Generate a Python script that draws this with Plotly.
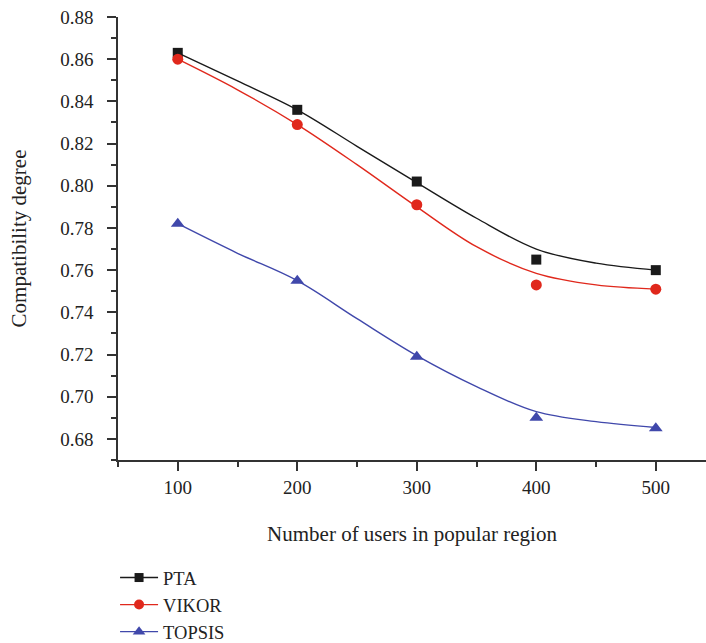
import plotly.graph_objects as go

# Measured points
users = [100, 200, 300, 400, 500]
pta = [0.863, 0.836, 0.802, 0.765, 0.760]
vikor = [0.860, 0.829, 0.791, 0.753, 0.751]
topsis = [0.782, 0.755, 0.719, 0.690, 0.685]

# Fitted curves
fit_x = [100, 150, 200, 250, 300, 350, 400, 450, 500]
pta_fit = [0.863, 0.8497, 0.836, 0.8187, 0.8015, 0.7846, 0.770, 0.7633, 0.760]
vikor_fit = [0.860, 0.8455, 0.829, 0.810, 0.790, 0.7711, 0.7585, 0.753, 0.751]
topsis_fit = [0.782, 0.768, 0.755, 0.737, 0.7195, 0.7048, 0.6929, 0.6882, 0.6854]

y_ticks = [0.68, 0.70, 0.72, 0.74, 0.76, 0.78, 0.80, 0.82, 0.84, 0.86, 0.88]

names = ["PTA", "VIKOR", "TOPSIS"]
colors = ["#1a1a1a", "#e0281c", "#4048ab"]
symbols = ["square", "circle", "triangle-up"]
msizes = [10, 11, 12]

FONT = "Liberation Serif"
TXT = "#222"

fig = go.Figure()
series = [(pta, pta_fit), (vikor, vikor_fit), (topsis, topsis_fit)]
for i, (pts, fit) in enumerate(series):
    fig.add_trace(go.Scatter(x=fit_x, y=fit, mode="lines",
                             line=dict(color=colors[i], width=1.4, shape="spline", smoothing=1.0),
                             showlegend=False, hoverinfo="skip"))
    fig.add_trace(go.Scatter(x=users, y=pts, mode="markers",
                             marker=dict(symbol=symbols[i], size=msizes[i], color=colors[i]),
                             showlegend=False))
for i in range(3):
    fig.add_trace(go.Scatter(x=[None], y=[None], mode="lines+markers", name=names[i],
                             line=dict(color=colors[i], width=1.4),
                             marker=dict(symbol=symbols[i], size=msizes[i] - 1, color=colors[i])))

fig.update_layout(
    width=706, height=643,
    margin=dict(l=118, r=0, t=17, b=183, autoexpand=False),
    plot_bgcolor="white", paper_bgcolor="white",
    font=dict(family=FONT, size=19, color=TXT),
    showlegend=True,
    legend=dict(x=-0.005, y=-0.2235, xanchor="left", yanchor="top", itemwidth=38,
                font=dict(size=18.5, family=FONT, color=TXT),
                tracegroupgap=0, bgcolor="rgba(0,0,0,0)"),
    xaxis=dict(range=[50, 542], tickvals=users, ticktext=[str(u) for u in users],
               showgrid=False, zeroline=False, showline=True, linecolor="#333", linewidth=1.5,
               ticks="outside", ticklen=9, tickwidth=1.5, tickcolor="#333",
               ticklabelstandoff=0, automargin=False,
               minor=dict(ticks="outside", ticklen=5, tickwidth=1.5, tickcolor="#333",
                          dtick=50, tick0=50, showgrid=False),
               tickfont=dict(size=19, family=FONT, color=TXT),
               title=dict(text="Number of users in popular region", standoff=30,
                          font=dict(size=21, family=FONT, color=TXT))),
    yaxis=dict(range=[0.670, 0.880], tickvals=y_ticks, tickformat=".2f",
               showgrid=False, zeroline=False, showline=True, linecolor="#333", linewidth=1.5,
               ticks="outside", ticklen=9, tickwidth=1.5, tickcolor="#333",
               ticklabelstandoff=10, automargin=False,
               minor=dict(ticks="outside", ticklen=5, tickwidth=1.5, tickcolor="#333",
                          dtick=0.01, tick0=0.67, showgrid=False),
               tickfont=dict(size=19, family=FONT, color=TXT),
               title=dict(text="Compatibility degree", standoff=28,
                          font=dict(size=21, family=FONT, color=TXT))),
)

fig.write_html("out.html", config={"displayModeBar": False},
               post_script="document.body.style.margin='0';")
